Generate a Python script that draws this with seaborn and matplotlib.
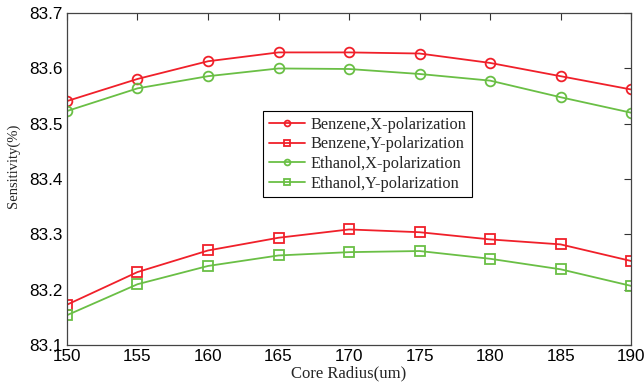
import matplotlib
matplotlib.use("Agg")
import matplotlib.pyplot as plt
import seaborn as sns
import pandas as pd

core_radius = [150, 155, 160, 165, 170, 175, 180, 185, 190]
benzene_x = [83.541, 83.581, 83.613, 83.629, 83.629, 83.627, 83.610, 83.586, 83.562]
benzene_y = [83.173, 83.232, 83.271, 83.294, 83.309, 83.304, 83.291, 83.282, 83.252]
ethanol_x = [83.523, 83.564, 83.586, 83.600, 83.599, 83.590, 83.578, 83.548, 83.520]
ethanol_y = [83.154, 83.210, 83.243, 83.262, 83.268, 83.270, 83.256, 83.237, 83.207]
series_names = ["Benzene,X-polarization", "Benzene,Y-polarization",
                "Ethanol,X-polarization", "Ethanol,Y-polarization"]
x_ticks = [150, 155, 160, 165, 170, 175, 180, 185, 190]
y_ticks = [83.1, 83.2, 83.3, 83.4, 83.5, 83.6, 83.7]

red = "#f0202a"
green = "#6abf45"
styles = [(red, "o"), (red, "s"), (green, "o"), (green, "s")]
values = [benzene_x, benzene_y, ethanol_x, ethanol_y]

sns.set_style("white")
plt.rcParams["font.family"] = ["Liberation Sans", "DejaVu Sans"]

fig = plt.figure(figsize=(6.44, 3.86), dpi=100)
ax = fig.add_axes([0.104, 0.106, 0.876, 0.860])

for name, vals, (col, mk) in zip(series_names, values, styles):
    df = pd.DataFrame({"r": core_radius, "s": vals})
    sns.lineplot(data=df, x="r", y="s", ax=ax, color=col, marker=mk,
                 markersize=7 if mk == "o" else 7.5, markerfacecolor="none",
                 markeredgecolor=col, markeredgewidth=1.3, linewidth=1.3,
                 label=name)

ax.set_xlim(150, 190)
ax.set_ylim(83.1, 83.7)
ax.set_xticks(x_ticks)
ax.set_yticks(y_ticks)
ax.set_xticklabels([str(t) for t in x_ticks], fontsize=12.3)
ax.set_yticklabels([f"{t:.1f}" for t in y_ticks], fontsize=12.3)
ax.tick_params(direction="in", length=5, width=0.8, top=True, right=True,
               colors="#333333", labelcolor="black", pad=3)
for sp in ax.spines.values():
    sp.set_color("#444444")
    sp.set_linewidth(0.9)

ax.set_xlabel("Core Radius(um)", family="Liberation Serif", fontsize=12)
ax.set_ylabel("Sensitivity(%)", family="Liberation Serif", fontsize=10.5)
ax.xaxis.set_label_coords(0.5, -0.062)
ax.yaxis.set_label_coords(-0.083, 0.54)

leg = ax.legend(loc="upper left", bbox_to_anchor=(0.348, 0.705), frameon=True,
                fancybox=False, edgecolor="black", framealpha=1,
                prop={"family": "Liberation Serif", "size": 11.8},
                markerscale=0.6, handlelength=2.2, handletextpad=0.3,
                labelspacing=0.22, borderpad=0.35, borderaxespad=0)
leg.get_frame().set_linewidth(0.8)

fig.savefig("out.png", dpi=100)
